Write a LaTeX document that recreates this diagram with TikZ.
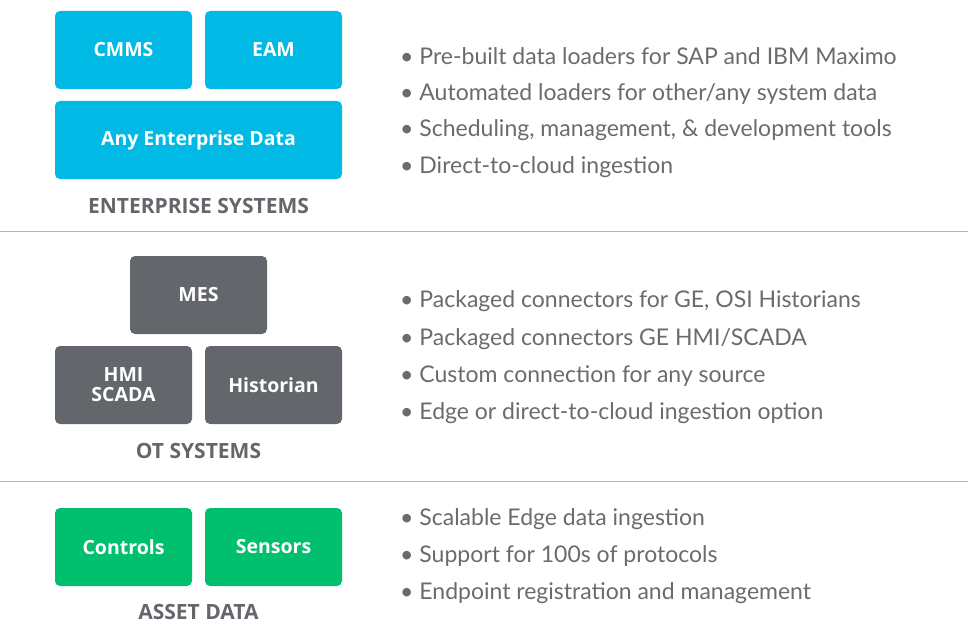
\documentclass[tikz,border=0pt]{standalone}
\usepackage{fontspec}
\setmainfont{Lato}
\newfontfamily\labelfont{Open Sans}
\definecolor{entblue}{HTML}{00B9E4}
\definecolor{otgray}{HTML}{63666A}
\definecolor{assetgreen}{HTML}{00BF6F}
\definecolor{textgray}{HTML}{6A6B6E}
\definecolor{rulegray}{HTML}{B4B4B4}
\tikzset{
  sysbox/.style = {rounded corners = 5pt, text = white, font = \labelfont\fontsize{19.5}{20}\selectfont\bfseries, align = center, inner sep = 0pt},
  grouplabel/.style = {text = otgray, font = \labelfont\fontsize{21}{22}\selectfont\bfseries},
  bulletline/.style = {anchor = west, text = textgray, font = \fontsize{23}{24}\selectfont, inner sep = 0pt}
}
\begin{document}
\begin{tikzpicture}[x = 1pt, y = -1pt]
  \useasboundingbox (0, 0) rectangle (968, 623);
  % enterprise systems
  \node[sysbox, fill = entblue, minimum width = 137pt, minimum height = 78pt] (cmms) at (123.5, 50) {CMMS};
  \node[sysbox, fill = entblue, minimum width = 137pt, minimum height = 78pt] (eam) at (273.5, 50) {EAM};
  \node[sysbox, fill = entblue, minimum width = 287pt, minimum height = 78pt] (anydata) at (198.5, 140) {Any Enterprise Data};
  \node[grouplabel] (entlabel) at (198.5, 206) {ENTERPRISE SYSTEMS};
  \node[bulletline] (ent1) at (400, 56) {• Pre-built data loaders for SAP and IBM Maximo};
  \node[bulletline] (ent2) at (400, 94) {• Automated loaders for other/any system data};
  \node[bulletline] (ent3) at (400, 130) {• Scheduling, management, \& development tools};
  \node[bulletline] (ent4) at (400, 167) {• Direct-to-cloud ingestion};
  \draw[rulegray, line width = 1pt] (0, 231) -- (968, 231);
  % ot systems
  \node[sysbox, fill = otgray, minimum width = 137pt, minimum height = 78pt] (mes) at (198.5, 295) {MES};
  \node[sysbox, fill = otgray, minimum width = 137pt, minimum height = 78pt] (hmi) at (123.5, 385) {HMI\\SCADA};
  \node[sysbox, fill = otgray, minimum width = 137pt, minimum height = 78pt] (historian) at (273.5, 385) {Historian};
  \node[grouplabel] (otlabel) at (198.5, 451) {OT SYSTEMS};
  \node[bulletline] (ot1) at (400, 301) {• Packaged connectors for GE, OSI Historians};
  \node[bulletline] (ot2) at (400, 339) {• Packaged connectors GE HMI/SCADA};
  \node[bulletline] (ot3) at (400, 376) {• Custom connection for any source};
  \node[bulletline] (ot4) at (400, 413) {• Edge or direct-to-cloud ingestion option};
  \draw[rulegray, line width = 1pt] (0, 481) -- (968, 481);
  % asset data
  \node[sysbox, fill = assetgreen, minimum width = 137pt, minimum height = 78pt] (controls) at (123.5, 547) {Controls};
  \node[sysbox, fill = assetgreen, minimum width = 137pt, minimum height = 78pt] (sensors) at (273.5, 547) {Sensors};
  \node[grouplabel] (assetlabel) at (198.5, 612) {ASSET DATA};
  \node[bulletline] (asset1) at (400, 519) {• Scalable Edge data ingestion};
  \node[bulletline] (asset2) at (400, 556) {• Support for 100s of protocols};
  \node[bulletline] (asset3) at (400, 593) {• Endpoint registration and management};
\end{tikzpicture}
\end{document}
